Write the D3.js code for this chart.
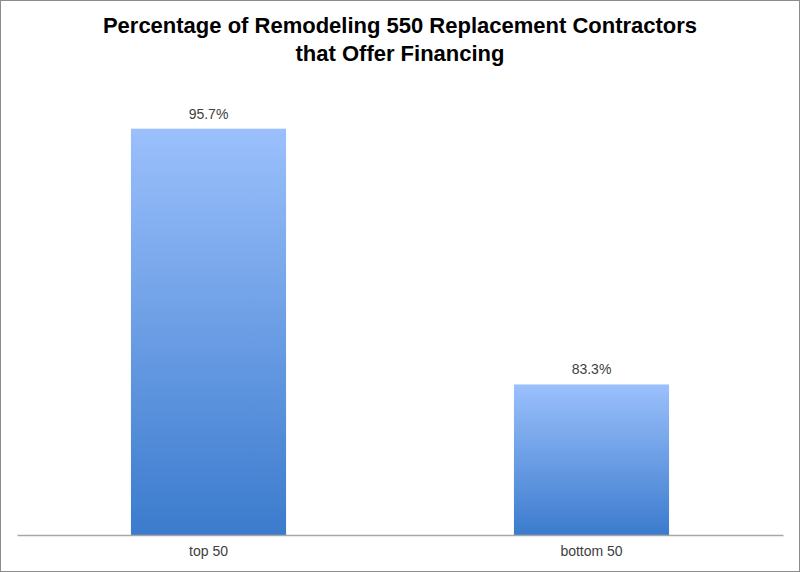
<!DOCTYPE html>
<html>
<head>
<meta charset="utf-8">
<script src="https://cdn.jsdelivr.net/npm/d3@7"></script>
<style>
  html, body { margin: 0; padding: 0; background: #fff; }
  svg { display: block; }
</style>
</head>
<body>
<script>
const titleLines = ["Percentage of Remodeling 550 Replacement Contractors", "that Offer Financing"];
const categories = ["top 50", "bottom 50"];
const values = [95.7, 83.3];
const valueLabels = ["95.7%", "83.3%"];
const yDomain = [76, 100];

const W = 800, H = 572;
const svg = d3.select("body").append("svg").attr("width", W).attr("height", H);

svg.append("rect").attr("x", 0.5).attr("y", 0.5).attr("width", W - 1).attr("height", H - 1)
  .attr("fill", "#fff").attr("stroke", "#8c8c8c").attr("stroke-width", 1);

const defs = svg.append("defs");
const grad = defs.append("linearGradient").attr("id", "barGrad")
  .attr("x1", 0).attr("y1", 0).attr("x2", 0).attr("y2", 1);
grad.append("stop").attr("offset", "0%").attr("stop-color", "#9bc0fc");
grad.append("stop").attr("offset", "100%").attr("stop-color", "#3b7bcd");

const x = d3.scaleBand().domain(categories).range([17, 783]).paddingInner(0.595).paddingOuter(0.2975);
const y = d3.scaleLinear().domain(yDomain).range([535, 40]);

const title = svg.append("text").attr("text-anchor", "middle")
  .attr("font-family", "Liberation Sans, Arial, sans-serif").attr("font-weight", "bold")
  .attr("font-size", 22).attr("fill", "#000");
title.selectAll("tspan").data(titleLines).join("tspan")
  .attr("x", 400).attr("y", (d, i) => 33 + i * 28).text(d => d);

svg.append("g").selectAll("rect").data(values).join("rect")
  .attr("x", (d, i) => x(categories[i]))
  .attr("width", x.bandwidth())
  .attr("y", d => y(d))
  .attr("height", d => y(yDomain[0]) - y(d))
  .attr("fill", "url(#barGrad)");

svg.append("g").selectAll("text").data(values).join("text")
  .attr("x", (d, i) => x(categories[i]) + x.bandwidth() / 2)
  .attr("y", d => y(d) - 10)
  .attr("text-anchor", "middle")
  .attr("font-family", "Liberation Sans, Arial, sans-serif").attr("font-size", 14)
  .attr("fill", "#404040")
  .text((d, i) => valueLabels[i]);

const xAxis = svg.append("g").attr("transform", `translate(0,${y(yDomain[0])})`)
  .call(d3.axisBottom(x).tickSize(0).tickPadding(11));
xAxis.select(".domain").attr("stroke", "#a6a6a6").attr("stroke-width", 1.5);
xAxis.selectAll("text").attr("font-family", "Liberation Sans, Arial, sans-serif")
  .attr("font-size", 14).attr("fill", "#404040");
</script>
</body>
</html>
